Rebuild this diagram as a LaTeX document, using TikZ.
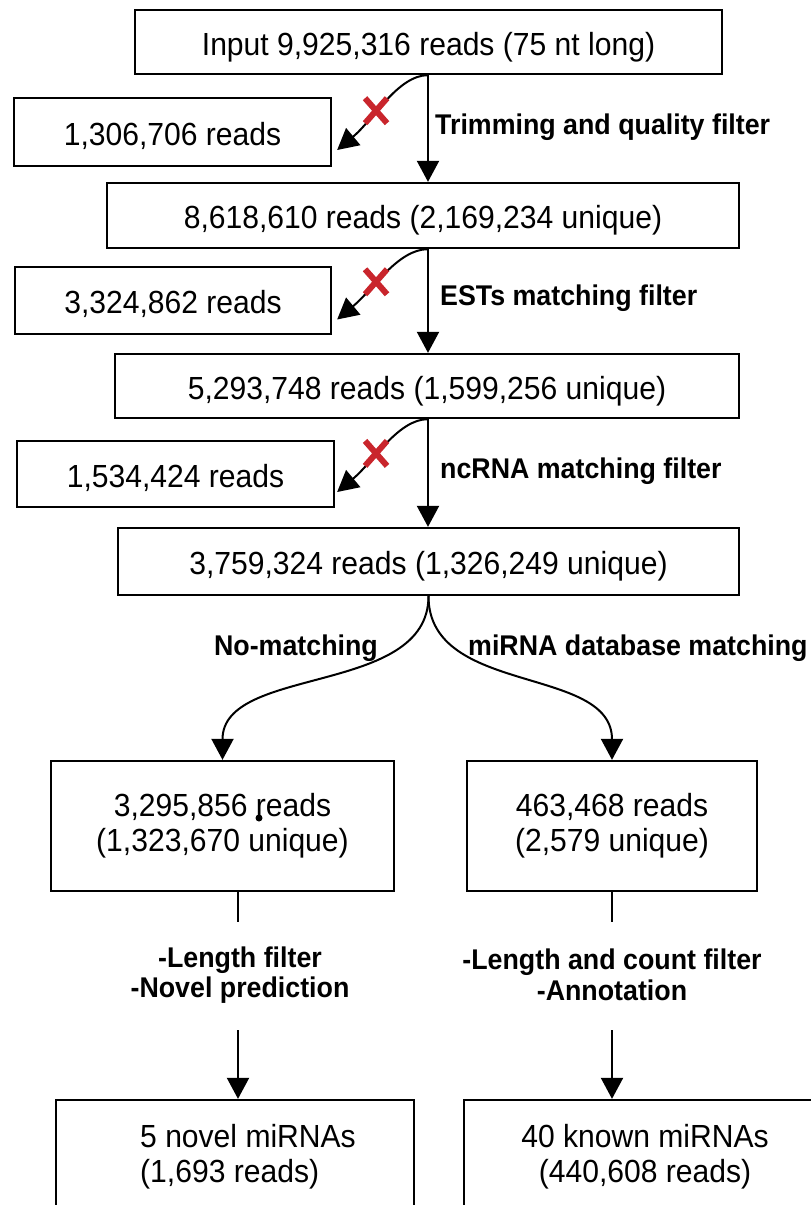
\documentclass[tikz,border=0pt]{standalone}
\usepackage{fontspec}
\setmainfont[FakeStretch=0.94]{Liberation Sans}
\usetikzlibrary{arrows.meta,shapes.misc}
\definecolor{xred}{HTML}{C9252C}
\begin{document}
\begin{tikzpicture}[x=1pt,y=-1pt,
  txt/.style={font=\fontsize{32}{35}\selectfont},
  box/.style={draw,line width=2.3pt,inner sep=0pt,txt,align=center},
  onebox/.style={box,text height=33pt,text depth=6.5pt},
  lab/.style={font=\bfseries\fontsize{28.5}{30.5}\selectfont,inner sep=0pt},
  arr/.style={line width=2pt,-{Triangle[width=22pt,length=21pt]}},
  plain/.style={line width=2pt},
  xmark/.style={cross out,draw=xred,line width=6pt,minimum width=16pt,minimum height=19pt,inner sep=0pt}]
\useasboundingbox (0,0) rectangle (811,1205);
\clip (0,0) rectangle (811,1205);
% main column boxes
\node[onebox,minimum width=587pt,minimum height=64pt] (B1) at (428.5,42) {Input 9,925,316 reads (75 nt long)};
\node[onebox,minimum width=317pt,minimum height=68pt] (L1) at (172.5,132) {1,306,706 reads};
\node[onebox,minimum width=632pt,minimum height=65pt] (B2) at (423,215.5) {8,618,610 reads (2,169,234 unique)};
\node[onebox,minimum width=316pt,minimum height=67pt] (L2) at (173,300.5) {3,324,862 reads};
\node[onebox,minimum width=624pt,minimum height=64pt] (B3) at (427,386) {5,293,748 reads (1,599,256 unique)};
\node[onebox,minimum width=317pt,minimum height=66pt] (L3) at (175.5,474) {1,534,424 reads};
\node[onebox,minimum width=621pt,minimum height=67pt] (B4) at (428.5,561.5) {3,759,324 reads (1,326,249 unique)};
% branch boxes
\node[box,minimum width=343pt,minimum height=130pt] (ML) at (222.5,826) {3,295,856 reads\\(1,323,670 unique)};
\node[box,minimum width=290pt,minimum height=130pt] (MR) at (612,826) {463,468 reads\\(2,579 unique)};
\fill (259,818) circle (3.5);
% bottom boxes (run off the page)
\node[box,minimum width=358pt,minimum height=160pt] (BL) at (235,1180) {};
\node[box,minimum width=416pt,minimum height=160pt] (BR) at (672,1180) {};
\node[txt,align=left,anchor=west,inner sep=0pt] (tBL) at (140,1157) {5 novel miRNAs\\(1,693 reads)};
\node[txt,align=center,inner sep=0pt] (tBR) at (645,1157) {40 known miRNAs\\(440,608 reads)};
% labels
\node[lab,anchor=base west] (t1) at (435,134) {Trimming and quality filter};
\node[lab,anchor=base west] (t2) at (440,305) {ESTs matching filter};
\node[lab,anchor=base west] (t3) at (440,478) {ncRNA matching filter};
\node[lab,anchor=base east] (t4) at (378,655) {No-matching};
\node[lab,anchor=base west] (t5) at (468,655) {miRNA database matching};
\node[lab,align=center] (t6) at (240,975) {-Length filter\\-Novel prediction};
\node[lab,align=center] (t7) at (612,975) {-Length and count filter\\-Annotation};
% connectors
\coordinate (ax) at (428,0);
\draw[arr] (ax |- B1.south) -- (ax |- B2.north);
\draw[arr] (ax |- B2.south) -- (ax |- B3.north);
\draw[arr] (ax |- B3.south) -- (ax |- B4.north);
\draw[arr] (ax |- B1.south) .. controls +(-30,0) and +(36,-30) .. ([xshift=5pt,yshift=-18pt]L1.east) node[xmark,pos=0.6] (x1) {};
\draw[arr] (ax |- B2.south) .. controls +(-30,0) and +(36,-30) .. ([xshift=5pt,yshift=-19pt]L2.east) node[xmark,pos=0.6] (x2) {};
\draw[arr] (ax |- B3.south) .. controls +(-30,0) and +(36,-30) .. ([xshift=2pt,yshift=-18pt]L3.east) node[xmark,pos=0.6] (x3) {};
\draw[arr] (B4.south) .. controls +(0,100) and +(0,-95) .. (ML.north);
\draw[arr] (B4.south) .. controls +(0,100) and +(0,-95) .. (MR.north);
\coordinate (l1) at (238,922);
\coordinate (l2) at (238,1030);
\coordinate (r1) at (612,922);
\coordinate (r2) at (612,1030);
\draw[plain] (l1 |- ML.south) -- (l1);
\draw[arr] (l2) -- (l2 |- BL.north);
\draw[plain] (r1 |- MR.south) -- (r1);
\draw[arr] (r2) -- (r2 |- BR.north);
\end{tikzpicture}
\end{document}
